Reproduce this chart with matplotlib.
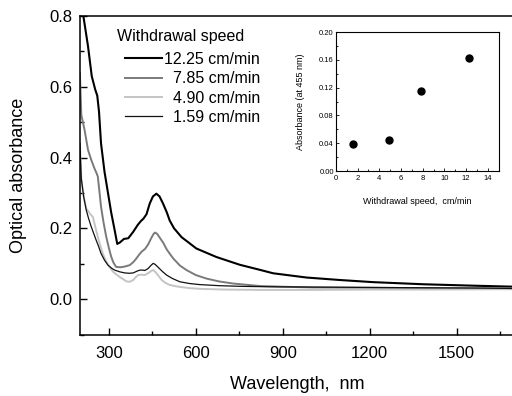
import matplotlib
matplotlib.use("Agg")
import matplotlib.pyplot as plt
from matplotlib.ticker import MultipleLocator

plt.rcParams['font.family'] = ['Liberation Sans', 'DejaVu Sans']

# ---- main spectra data ----
wl_1225 = [203, 213, 228, 241, 253, 260, 266, 273, 285, 297, 308, 320, 329, 338, 352, 367, 384, 400, 410, 420,
           430, 441, 452, 464, 475, 487, 500, 510, 525, 551, 575, 602, 671, 752, 815, 867, 982, 1097, 1211,
           1384, 1556, 1700]
ab_1225 = [0.83, 0.795, 0.715, 0.63, 0.592, 0.575, 0.53, 0.44, 0.36, 0.30, 0.245, 0.195, 0.156, 0.16, 0.17,
           0.172, 0.19, 0.21, 0.22, 0.228, 0.24, 0.27, 0.29, 0.298, 0.29, 0.27, 0.245, 0.222, 0.2, 0.175, 0.16,
           0.143, 0.119, 0.097, 0.084, 0.073, 0.061, 0.054, 0.048, 0.042, 0.038, 0.035]

wl_785 = [200, 205, 216, 228, 239, 250, 258, 262, 268, 273, 282, 291, 300, 308, 316, 325, 340, 355, 372, 385,
          395, 404, 413, 425, 436, 446, 455, 460, 467, 477, 487, 500, 522, 545, 568, 600, 637, 680, 729, 821,
          900, 1000, 1200, 1400, 1700]
ab_785 = [0.64, 0.52, 0.479, 0.422, 0.394, 0.37, 0.355, 0.346, 0.30, 0.261, 0.215, 0.176, 0.145, 0.12, 0.103,
          0.091, 0.09, 0.092, 0.096, 0.105, 0.115, 0.125, 0.134, 0.142, 0.155, 0.172, 0.185, 0.188, 0.184,
          0.172, 0.16, 0.14, 0.115, 0.095, 0.082, 0.068, 0.058, 0.05, 0.044, 0.037, 0.035, 0.033, 0.032,
          0.031, 0.03]

wl_490 = [200, 205, 213, 222, 228, 236, 245, 250, 256, 267, 279, 290, 302, 315, 325, 338, 348, 361, 372, 384,
          393, 401, 412, 424, 437, 447, 454, 459, 467, 475, 482, 495, 510, 540, 579, 614, 700, 821, 1000,
          1200, 1400, 1700]
ab_490 = [0.44, 0.34, 0.29, 0.255, 0.25, 0.24, 0.232, 0.215, 0.195, 0.16, 0.129, 0.108, 0.091, 0.077, 0.07,
          0.062, 0.057, 0.05, 0.049, 0.054, 0.062, 0.068, 0.069, 0.068, 0.074, 0.08, 0.082, 0.078, 0.07,
          0.062, 0.054, 0.046, 0.04, 0.035, 0.031, 0.029, 0.027, 0.026, 0.026, 0.027, 0.027, 0.028]

wl_159 = [200, 205, 213, 222, 230, 239, 248, 256, 265, 273, 285, 297, 310, 320, 338, 355, 370, 384, 397, 407,
          416, 424, 435, 445, 453, 460, 470, 485, 499, 520, 545, 579, 614, 680, 760, 850, 1000, 1200, 1400,
          1600, 1700]
ab_159 = [0.44, 0.34, 0.29, 0.252, 0.228, 0.205, 0.185, 0.167, 0.148, 0.129, 0.11, 0.096, 0.087, 0.082, 0.077,
          0.074, 0.073, 0.074, 0.079, 0.082, 0.082, 0.081, 0.086, 0.095, 0.101, 0.098, 0.09, 0.078, 0.068,
          0.058, 0.049, 0.044, 0.041, 0.038, 0.036, 0.035, 0.034, 0.033, 0.032, 0.031, 0.03]

labels = ["12.25 cm/min", "  7.85 cm/min", "  4.90 cm/min", "  1.59 cm/min"]

# ---- inset data ----
speed = [1.59, 4.90, 7.85, 12.25]
abs455 = [0.039, 0.045, 0.115, 0.162]

fig = plt.figure(figsize=(5.12, 3.96), dpi=100)
ax = fig.add_axes([0.156, 0.1553, 0.849, 0.8043])

ax.plot(wl_1225, ab_1225, color='black', lw=1.5, label=labels[0])
ax.plot(wl_785, ab_785, color='#7a7a7a', lw=1.4, label=labels[1])
ax.plot(wl_490, ab_490, color='#c4c4c4', lw=1.4, label=labels[2])
ax.plot(wl_159, ab_159, color='#111111', lw=0.9, label=labels[3])

ax.set_xlim(200, 1700)
ax.set_ylim(-0.1, 0.8)
ax.set_xticks([300, 600, 900, 1200, 1500])
ax.xaxis.set_minor_locator(MultipleLocator(150))
ax.set_yticks([0.0, 0.2, 0.4, 0.6, 0.8])
ax.yaxis.set_minor_locator(MultipleLocator(0.1))
ax.yaxis.set_major_formatter(matplotlib.ticker.FormatStrFormatter('%.1f'))
ax.tick_params(which='both', direction='in', labelsize=12, width=1.0, colors='black')
ax.tick_params(which='major', length=5)
ax.tick_params(which='minor', length=3)
ax.tick_params(axis='x', pad=8)
ax.tick_params(axis='y', pad=5.5)
ax.spines['right'].set_visible(False)
for s in ['left', 'bottom', 'top']:
    ax.spines[s].set_linewidth(1.1)
ax.set_xlabel('Wavelength,  nm', fontsize=13, labelpad=11)
ax.set_ylabel('Optical absorbance', fontsize=13, labelpad=16)

fig.text(117 / 512, 1 - 37 / 396, 'Withdrawal speed', fontsize=11.5, va='center', ha='left')
ax.legend(loc='upper left', bbox_to_anchor=(125 / 512, 1 - 52 / 396), bbox_transform=fig.transFigure,
          frameon=False, fontsize=11.5, handlelength=2.3, handletextpad=0.15, labelspacing=0.27,
          borderpad=0, borderaxespad=0)

# ---- inset ----
ai = fig.add_axes([0.656, 0.568, 0.318, 0.351])
ai.plot(speed, abs455, 'o', color='black', markersize=5)
ai.set_xlim(0, 15)
ai.set_ylim(0, 0.2)
ai.set_xticks(range(0, 15, 2))
ai.xaxis.set_minor_locator(MultipleLocator(1))
ai.set_yticks([0.0, 0.04, 0.08, 0.12, 0.16, 0.20])
ai.yaxis.set_minor_locator(MultipleLocator(0.02))
ai.yaxis.set_major_formatter(matplotlib.ticker.FormatStrFormatter('%.2f'))
ai.tick_params(which='both', direction='in', labelsize=5.5, width=0.6, pad=1.5)
ai.tick_params(axis='x', pad=2.5)
ai.tick_params(which='major', length=2.5)
ai.tick_params(which='minor', length=1.5)
for s in ai.spines.values():
    s.set_linewidth(0.8)
ai.set_xlabel('Withdrawal speed,  cm/min', fontsize=6.5, labelpad=11)
ai.set_ylabel('Absorbance (at 455 nm)', fontsize=6.5, labelpad=10)

fig.savefig('out.png', dpi=100)
